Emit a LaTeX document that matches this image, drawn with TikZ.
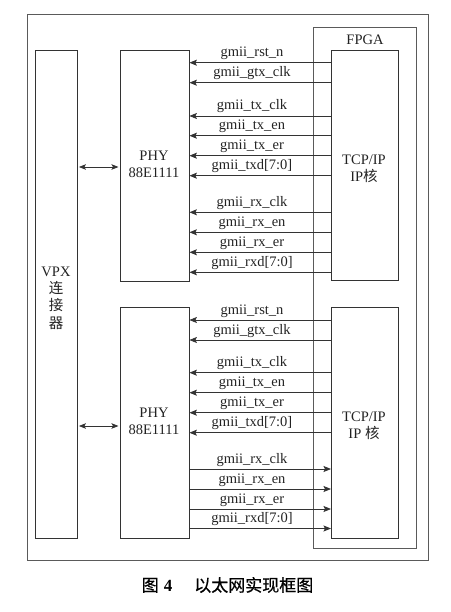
\documentclass[tikz,border=0pt]{standalone}
\usepackage{fontspec}
\setmainfont{Liberation Serif}
\newfontfamily\cjk{Noto Sans CJK SC}
\newfontfamily\cjkcap[FakeBold=0.6]{Noto Sans CJK SC}
\usetikzlibrary{arrows.meta}
\definecolor{ln}{HTML}{333333}
\definecolor{fr}{HTML}{5A5A5A}
\definecolor{tx}{HTML}{222222}
\tikzset{
  box/.style={draw=ln, line width=0.9pt, anchor=north west, inner sep=0pt},
  frame/.style={draw=fr, line width=0.9pt, anchor=north west, inner sep=0pt},
  sig/.style={draw=ln, line width=0.8pt, -{Stealth[length=7.5pt,width=6pt,inset=1.5pt]}},
  bidir/.style={draw=ln, line width=0.8pt, {Stealth[length=7pt,width=5.5pt,inset=1.5pt]}-{Stealth[length=7pt,width=5.5pt,inset=1.5pt]}},
  lbl/.style={anchor=base, inner sep=0pt, text=tx, font=\fontsize{14.5}{17}\selectfont},
  txt/.style={align=center, inner sep=0pt, text=tx, font=\fontsize{14.5}{17.3}\selectfont},
}
\begin{document}
\begin{tikzpicture}[x=1pt,y=-1pt]
\useasboundingbox (0,0) rectangle (450,612);
% outer frame
\node[frame, minimum width=401pt, minimum height=546pt] (outer) at (27,14) {};
% FPGA
\node[frame, minimum width=103pt, minimum height=521pt] (fpga) at (313,27) {};
\node[lbl] (fpgalbl) at (365,45) {FPGA};
% VPX
\node[box, minimum width=42.5pt, minimum height=488pt] (vpx) at (34.5,50) {};
\node[txt] (vpxtxt) at (56,298) {VPX\\{\cjk 连}\\{\cjk 接}\\{\cjk 器}};
% PHYs
\node[box, minimum width=68.5pt, minimum height=231pt] (phy1) at (120,50) {};
\node[txt] (phy1txt) at (154,164.5) {PHY\\88E1111};
\node[box, minimum width=68.5pt, minimum height=231pt] (phy2) at (120,307) {};
\node[txt] (phy2txt) at (154,421) {PHY\\88E1111};
% TCP/IP
\node[box, minimum width=67pt, minimum height=230pt] (tcp1) at (331,50) {};
\node[txt] (tcp1txt) at (364,168.5) {TCP/IP\\IP{\cjk 核}};
\node[box, minimum width=67pt, minimum height=231pt] (tcp2) at (331,307) {};
\node[txt] (tcp2txt) at (364,425.5) {TCP/IP\\IP {\cjk 核}};
% VPX <-> PHY
\draw[bidir, shorten <=1pt, shorten >=1.5pt] (vpx.east |- 0,167) -- (phy1.west |- 0,167);
\draw[bidir, shorten <=1pt, shorten >=1.5pt] (vpx.east |- 0,426) -- (phy2.west |- 0,426);
% top block signals (all toward PHY)
\foreach \y/\t in {62.7/gmii\_rst\_n, 82.7/gmii\_gtx\_clk, 116/gmii\_tx\_clk, 135.7/gmii\_tx\_en, 155.7/gmii\_tx\_er, 175.7/gmii\_txd[7:0], 212.3/gmii\_rx\_clk, 232.3/gmii\_rx\_en, 252.3/gmii\_rx\_er, 272.3/gmii\_rxd[7:0]}{
  \draw[sig] (tcp1.west |- 0,\y) -- (phy1.east |- 0,\y);
  \node[lbl] at (252,\y-6) {\t};
}
% bottom block signals toward PHY
\foreach \y/\t in {320/gmii\_rst\_n, 340/gmii\_gtx\_clk, 372.7/gmii\_tx\_clk, 392.7/gmii\_tx\_en, 412.7/gmii\_tx\_er, 432.7/gmii\_txd[7:0]}{
  \draw[sig] (tcp2.west |- 0,\y) -- (phy2.east |- 0,\y);
  \node[lbl] at (252,\y-6) {\t};
}
% bottom block signals toward TCP/IP
\foreach \y/\t in {469/gmii\_rx\_clk, 489/gmii\_rx\_en, 509/gmii\_rx\_er, 528.5/gmii\_rxd[7:0]}{
  \draw[sig] (phy2.east |- 0,\y) -- (tcp2.west |- 0,\y);
  \node[lbl] at (252,\y-6) {\t};
}
% caption
\node[inner sep=0pt, text=black, font=\fontsize{17}{20}\selectfont] (cap) at (227.5,585)
  {{\cjkcap 图}\hspace{5pt}{\bfseries 4}\hspace{22pt}{\cjkcap 以太网实现框图}};
\end{tikzpicture}
\end{document}
